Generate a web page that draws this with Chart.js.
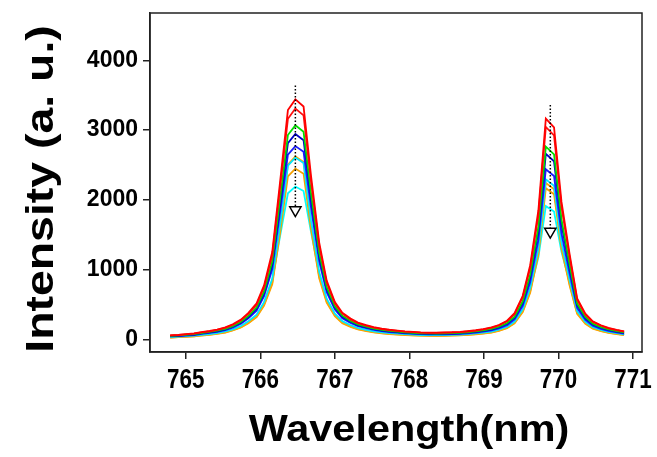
<!DOCTYPE html>
<html>
<head>
<meta charset="utf-8">
<script src="https://cdn.jsdelivr.net/npm/chart.js@4/dist/chart.umd.min.js"></script>
<style>
  html, body { margin: 0; padding: 0; background: #fff; }
  #wrap { width: 657px; height: 457px; }
</style>
</head>
<body>
<div id="wrap"><canvas id="spectra" width="657" height="457"></canvas></div>
<script>
// wavelength axis (nm)
var wavelength = [764.79, 764.90, 765.00, 765.11, 765.21, 765.32, 765.42, 765.53, 765.63, 765.74,
  765.84, 765.95, 766.05, 766.16, 766.26, 766.37, 766.47, 766.58, 766.68, 766.79,
  766.89, 767.00, 767.10, 767.21, 767.31, 767.42, 767.52, 767.63, 767.73, 767.84,
  767.94, 768.05, 768.15, 768.26, 768.36, 768.47, 768.57, 768.68, 768.78, 768.89,
  768.99, 769.10, 769.20, 769.31, 769.41, 769.52, 769.62, 769.73, 769.83, 769.94,
  770.04, 770.15, 770.25, 770.36, 770.46, 770.57, 770.67, 770.78, 770.88];

// intensities (a. u.) of each spectrum
var red1 = [57, 64, 74, 85, 102, 119, 139, 170, 215, 283, 379, 515, 772, 1251, 2208, 3286, 3439, 3337, 2345, 1387,
  842, 534, 381, 297, 240, 204, 174, 152, 137, 125, 114, 107, 100, 96, 95, 98, 101, 107, 117, 130,
  147, 170, 205, 266, 375, 624, 1063, 1847, 3164, 3038, 1969, 1215, 587, 367, 258, 201, 163, 135, 113];
var red2 = [55, 62, 72, 81, 99, 115, 134, 164, 206, 273, 364, 496, 742, 1203, 2124, 3161, 3309, 3210, 2256, 1335,
  810, 514, 367, 286, 230, 197, 168, 147, 132, 121, 110, 102, 96, 93, 92, 95, 98, 103, 112, 125,
  142, 164, 199, 257, 360, 602, 1022, 1776, 3044, 2923, 1895, 1169, 565, 353, 249, 194, 157, 130, 109];
var green1 = [50, 56, 65, 74, 90, 105, 123, 151, 190, 251, 336, 458, 687, 1114, 1969, 2929, 3067, 2975, 2091, 1236,
  750, 475, 339, 264, 212, 181, 154, 134, 121, 110, 100, 93, 87, 84, 83, 86, 88, 93, 101, 113,
  128, 148, 180, 233, 326, 545, 927, 1611, 2762, 2652, 1718, 1060, 512, 320, 225, 175, 142, 117, 98];
var blue1 = [45, 51, 60, 68, 84, 98, 115, 142, 180, 239, 320, 438, 657, 1068, 1889, 2812, 2944, 2855, 2006, 1185,
  718, 454, 323, 251, 201, 171, 145, 126, 114, 103, 94, 87, 81, 78, 77, 80, 82, 87, 95, 106,
  121, 140, 170, 222, 311, 522, 890, 1549, 2658, 2552, 1653, 1019, 490, 305, 214, 166, 134, 110, 92];
var blue2 = [41, 46, 54, 62, 77, 91, 107, 132, 167, 223, 300, 410, 617, 1003, 1776, 2646, 2770, 2687, 1887, 1114,
  674, 426, 302, 234, 187, 159, 135, 117, 105, 95, 86, 80, 74, 71, 70, 72, 75, 79, 86, 97,
  110, 127, 155, 202, 285, 478, 816, 1421, 2438, 2341, 1516, 934, 449, 279, 195, 151, 122, 100, 83];
var cyan1 = [33, 38, 45, 52, 64, 76, 90, 112, 143, 191, 258, 354, 533, 868, 1605, 2488, 2605, 2527, 1705, 964,
  582, 367, 260, 201, 160, 136, 115, 99, 89, 81, 73, 67, 62, 60, 60, 62, 64, 68, 74, 84,
  96, 112, 137, 180, 255, 431, 736, 1304, 2293, 2201, 1391, 844, 404, 250, 174, 134, 107, 88, 72];
var orange1 = [26, 31, 37, 44, 56, 67, 80, 101, 130, 175, 238, 328, 497, 813, 1556, 2503, 2621, 2542, 1653, 904,
  544, 341, 240, 184, 146, 123, 103, 89, 79, 71, 64, 58, 54, 52, 51, 53, 55, 59, 65, 74,
  85, 101, 124, 165, 235, 401, 689, 1262, 2240, 2150, 1347, 790, 376, 231, 159, 121, 96, 78, 63];
var orange2 = [25, 30, 36, 42, 54, 65, 78, 97, 126, 170, 231, 318, 482, 789, 1490, 2337, 2448, 2374, 1583, 876,
  527, 330, 232, 179, 142, 119, 100, 86, 76, 69, 62, 56, 52, 50, 49, 51, 53, 57, 63, 72,
  83, 97, 120, 159, 228, 389, 668, 1216, 2167, 2081, 1298, 766, 364, 223, 154, 117, 93, 75, 61];
var cyan2 = [32, 37, 44, 50, 63, 74, 88, 109, 139, 186, 250, 343, 517, 843, 1451, 2093, 2191, 2126, 1541, 936,
  566, 356, 252, 195, 156, 132, 112, 97, 86, 78, 71, 65, 61, 58, 58, 60, 62, 66, 72, 82,
  93, 109, 133, 175, 248, 418, 715, 1175, 1909, 1832, 1254, 819, 392, 243, 169, 130, 104, 85, 70];

var seriesList = [red1, red2, green1, blue1, blue2, cyan1, orange1, orange2, cyan2];
var seriesColors = ['#ff0000', '#ff1010', '#00e000', '#0000c8', '#1a1aff', '#00e8ff', '#ffa500', '#f5a000', '#00ffff'];

// arrows marking the decrease of the two peaks
var arrowX = [766.47, 769.89];
var arrowTop = [3640, 3360];
var arrowBase = [1900, 1590];
var arrowHead = [1852, 1544];

var xTicks = [765, 766, 767, 768, 769, 770, 771];
var yTicks = [0, 1000, 2000, 3000, 4000];
var xTitle = 'Wavelength(nm)';
var yTitle = 'Intensity (a. u.)';

var datasets = seriesList.map(function (s, k) {
  return {
    data: wavelength.map(function (w, i) { return { x: w, y: s[i] }; }),
    borderColor: seriesColors[k],
    borderWidth: 1.8,
    pointRadius: 0,
    tension: 0,
    fill: false
  };
});

// dotted stems and open triangle heads
var arrowSets = [];
for (var a = 0; a < arrowX.length; a++) {
  arrowSets.push({
    data: [{ x: arrowX[a], y: arrowTop[a] }, { x: arrowX[a], y: arrowBase[a] }],
    borderColor: '#000',
    borderWidth: 1.5,
    borderDash: [1.5, 2],
    pointRadius: 0,
    fill: false
  });
  arrowSets.push({
    data: [{ x: arrowX[a], y: arrowHead[a] }],
    showLine: false,
    pointStyle: 'triangle',
    rotation: 180,
    pointRadius: 6.5,
    pointBackgroundColor: '#fff',
    pointBorderColor: '#000',
    pointBorderWidth: 1.5
  });
}

var sansBold = '"Liberation Sans", Arial, sans-serif';

// frame round the plot, condensed x tick labels, stretched axis titles
var framePlugin = {
  id: 'frame',
  afterDraw: function (chart) {
    var c = chart.ctx, ca = chart.chartArea, xs = chart.scales.x;
    c.save();
    c.strokeStyle = '#222';
    c.lineWidth = 1.5;
    c.strokeRect(ca.left, ca.top, ca.right - ca.left, ca.bottom - ca.top);

    c.fillStyle = '#000';
    c.textAlign = 'center';
    c.textBaseline = 'alphabetic';
    c.font = 'bold 28px ' + sansBold;
    xTicks.forEach(function (v) {
      c.save();
      c.translate(xs.getPixelForValue(v), 388);
      c.scale(0.8, 1);
      c.fillText(String(v), 0, 0);
      c.restore();
    });

    c.font = 'bold 36px ' + sansBold;
    c.save();
    c.translate(409, 441);
    c.scale(1.15, 1);
    c.fillText(xTitle, 0, 0);
    c.restore();

    c.font = 'bold 39px ' + sansBold;
    c.save();
    c.translate(53, 189);
    c.rotate(-Math.PI / 2);
    c.scale(1.19, 1);
    c.fillText(yTitle, 0, 0);
    c.restore();
    c.restore();
  }
};

new Chart(document.getElementById('spectra'), {
  type: 'line',
  data: { datasets: arrowSets.concat(datasets) },
  plugins: [framePlugin],
  options: {
    responsive: false,
    animation: false,
    layout: { padding: { left: 0, right: 15, top: 13, bottom: 0 } },
    plugins: { legend: { display: false }, tooltip: { enabled: false } },
    scales: {
      x: {
        type: 'linear',
        min: 764.52,
        max: 771.12,
        afterBuildTicks: function (axis) { axis.ticks = xTicks.map(function (v) { return { value: v }; }); },
        afterFit: function (s) { s.height = 105; s.paddingLeft = 0; s.paddingRight = 0; },
        grid: { drawOnChartArea: false, drawTicks: true, tickLength: 7, color: '#222', lineWidth: 1.5 },
        border: { display: true, color: '#222', width: 1.5 },
        ticks: { display: false }
      },
      y: {
        type: 'linear',
        min: -182,
        max: 4678,
        afterBuildTicks: function (axis) { axis.ticks = yTicks.map(function (v) { return { value: v }; }); },
        afterFit: function (s) { s.width = 150; s.paddingTop = 0; s.paddingBottom = 0; },
        grid: { drawOnChartArea: false, drawTicks: true, tickLength: 7, color: '#222', lineWidth: 1.5 },
        border: { display: true, color: '#222', width: 1.5 },
        ticks: {
          color: '#000', padding: 5,
          font: { family: sansBold, size: 23, weight: 'bold' },
          callback: function (v) { return String(v); }
        }
      }
    }
  }
});
</script>
</body>
</html>
